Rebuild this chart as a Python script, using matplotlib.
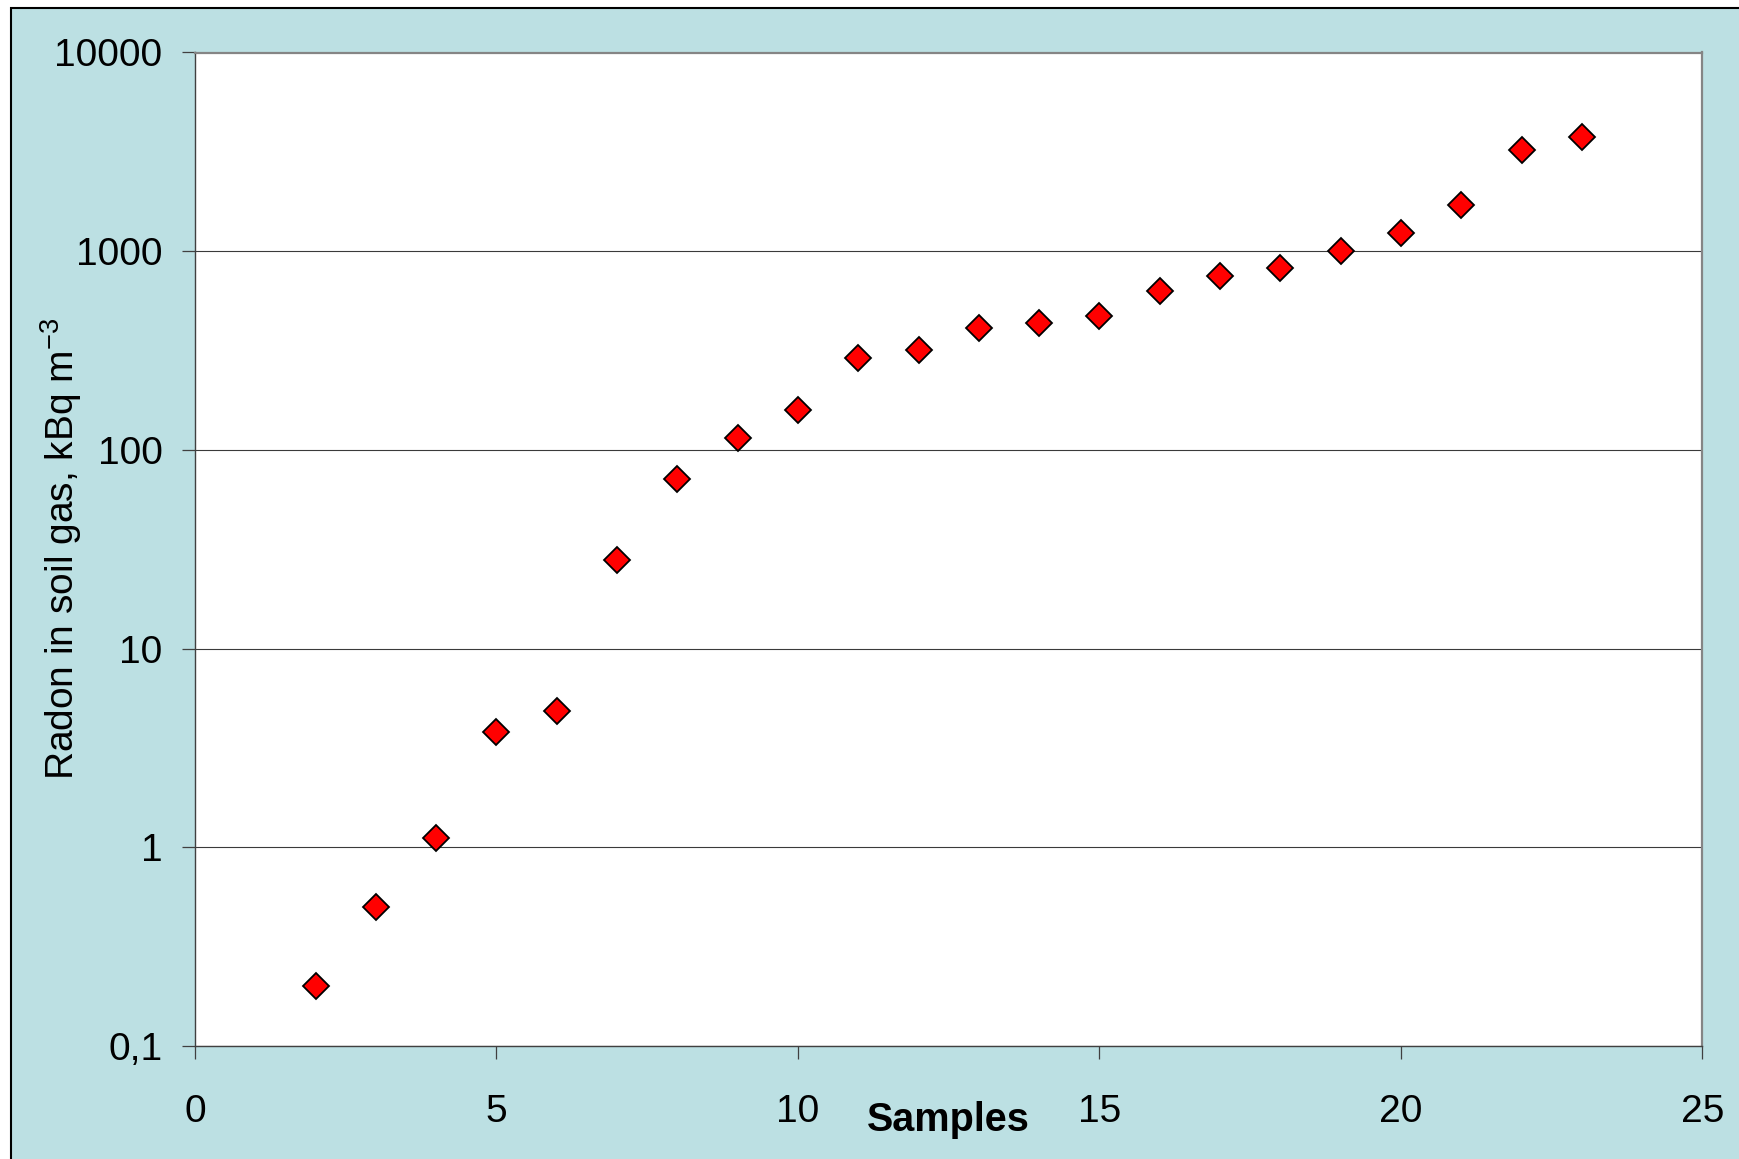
import matplotlib
matplotlib.use("Agg")
import matplotlib.pyplot as plt
from matplotlib.patches import Rectangle
from matplotlib.ticker import FixedLocator, NullLocator, FixedFormatter

plt.rcParams['font.family'] = ['Liberation Sans', 'DejaVu Sans']
plt.rcParams['mathtext.default'] = 'regular'

# Data
samples = list(range(2, 24))
radon = [0.20, 0.50, 1.11, 3.81, 4.87, 28, 71.6, 115, 159, 291, 318, 412,
         433, 474, 629, 754, 825, 1000, 1228, 1717, 3224, 3763]
y_ticks = [0.1, 1, 10, 100, 1000, 10000]
y_tick_labels = ['0,1', '1', '10', '100', '1000', '10000']
x_ticks = [0, 5, 10, 15, 20, 25]

W, H = 1740, 1159
fig = plt.figure(figsize=(W / 100, H / 100), dpi=100, facecolor='white')

bg = '#BCE0E3'
fig.patches.append(Rectangle((11.5 / W, -0.5), 2, 1.5 - 7.5 / H,
                             transform=fig.transFigure, facecolor=bg,
                             edgecolor='black', linewidth=1.5, zorder=-10))

ax = fig.add_axes([195 / W, 1 - 1046 / H, (1702.5 - 195) / W, (1046 - 52.5) / H])
ax.set_zorder(1)
ax.set_facecolor('white')

ax.plot(samples, radon, linestyle='none', marker='D', markersize=13.5,
        markerfacecolor='#FF0000', markeredgecolor='black', markeredgewidth=1.3,
        zorder=5, clip_on=False)

ax.set_yscale('log')
ax.set_ylim(0.1, 10000)
ax.set_xlim(0, 25)
ax.yaxis.set_major_locator(FixedLocator(y_ticks))
ax.yaxis.set_major_formatter(FixedFormatter(y_tick_labels))
ax.yaxis.set_minor_locator(NullLocator())
ax.xaxis.set_major_locator(FixedLocator(x_ticks))
ax.xaxis.set_minor_locator(NullLocator())

ax.grid(True, axis='y', which='major', color='#3a3a3a', linewidth=0.8)
ax.set_axisbelow(True)

for side in ['left', 'bottom']:
    ax.spines[side].set_color('#404040')
    ax.spines[side].set_linewidth(1.0)
for side in ['top', 'right']:
    ax.spines[side].set_color('#858585')
    ax.spines[side].set_linewidth(1.6)

ax.tick_params(axis='y', direction='out', length=9.4, width=0.9, color='#404040',
               labelsize=28, pad=14)
ax.tick_params(axis='x', direction='out', length=9.4, width=0.9, color='#404040',
               labelsize=28, pad=25)

ax.set_ylabel(r'Radon in soil gas, kBq m$^{-3}$', fontsize=28, va='center',
              rotation_mode='default')
ax.yaxis.set_label_coords(-0.0885, 0.5)
ax.set_xlabel('Samples', fontsize=28.5, fontweight='bold', va='center')
ax.xaxis.set_label_coords(0.5, -0.074)

fig.savefig('out.png', dpi=100, facecolor=fig.get_facecolor())
